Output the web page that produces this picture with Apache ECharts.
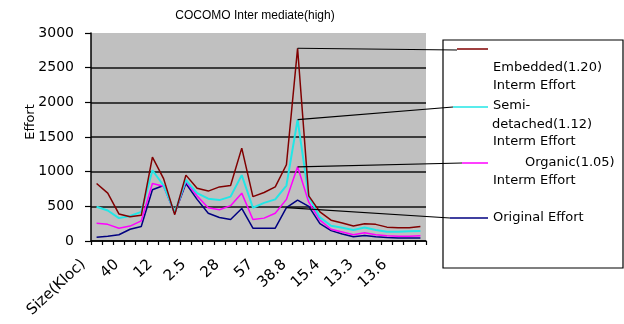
<!DOCTYPE html>
<html><head><meta charset="utf-8">
<script src="https://cdn.jsdelivr.net/npm/echarts@6/dist/echarts.min.js"></script>
<style>html,body{margin:0;padding:0;background:#fff}#c{width:624px;height:324px}</style>
</head><body><div id="c"></div>
<script>
const titleText = 'COCOMO Inter mediate(high)';
const yAxisTitle = 'Effort';
const categories = ['Size(Kloc)','','','40','','','12','','','2.5','','','28','','','57','','','38.8','','','15.4','','','13.3','','','13.6','',''];
const embedded     = [830,690,390,350,370,1210,900,380,950,760,720,780,800,1340,640,700,780,1100,2780,650,420,300,260,215,250,240,200,190,190,210];
const semiDetached = [495,440,330,360,420,1020,800,410,880,690,610,590,640,950,480,550,600,800,1750,640,340,220,190,160,195,160,135,135,140,145];
const organic      = [255,240,185,215,290,830,790,400,860,650,480,450,510,690,310,330,400,600,1070,560,300,170,130,90,120,90,75,70,70,75];
const original     = [55,70,90,170,210,740,800,400,830,600,400,340,310,470,185,185,185,480,590,500,250,150,100,60,80,60,50,45,45,45];
const yMin = 0, yMax = 3000, yStep = 500;
const legendLabels = {
  embedded: ['Embedded(1.20)', 'Interm Effort'],
  semi: ['Semi-', 'detached(1.12)', 'Interm Effort'],
  organic: ['Organic(1.05)', 'Interm Effort'],
  original: ['Original Effort']
};
const colors = { embedded:'#800000', semi:'#22e6e6', organic:'#ff00ff', original:'#000080' };

const chart = echarts.init(document.getElementById('c'), null, {renderer:'canvas'});
const lf = '13px "DejaVu Sans"';
function leader(seriesData, idx, ex, ey) {
  return {
    silent: true, symbol: ['none','none'], label:{show:false}, animation:false,
    emphasis:{disabled:true},
    lineStyle:{color:'#000', width:1.2, type:'solid'},
    data: [[{coord:[idx, seriesData[idx]]}, {x:ex, y:ey}]]
  };
}
function mkSeries(name, data, color, width, ml) {
  return { name, type:'line', data, symbol:'none', animation:false, clip:false,
    lineStyle:{color, width}, itemStyle:{color}, markLine: ml, z: 3 };
}
const textEl = (t, x, y) => ({ type:'text', x, y, z: 5, style:{ text:t, font:lf, fill:'#000', align:'left', verticalAlign:'middle' } });
const lineEl = (x1, x2, y, color) => ({ type:'line', z: 5, shape:{x1, y1:y, x2, y2:y}, style:{stroke:color, lineWidth:1.5} });

chart.setOption({
  animation:false,
  backgroundColor:'#fff',
  title: { text:titleText, left:255, textAlign:'center', top:10, padding:0,
    textStyle:{fontFamily:'Liberation Sans', fontSize:12, fontWeight:'normal', color:'#000'} },
  grid: { left:91, right:198, top:33, bottom:83, show:true, backgroundColor:'#c0c0c0', borderWidth:0 },
  xAxis: { type:'category', data:categories, boundaryGap:true,
    axisLine:{show:true, lineStyle:{color:'#000', width:1.5}},
    axisTick:{show:true, interval:0, length:4, lineStyle:{color:'#000', width:1.2}},
    axisLabel:{interval:2, rotate:43, margin:9, padding:[0,18,0,0], color:'#000', fontFamily:'DejaVu Sans', fontSize:15},
    splitLine:{show:false} },
  yAxis: { type:'value', min:yMin, max:yMax, interval:yStep,
    name: yAxisTitle, nameLocation:'middle', nameRotate:90, nameGap:54, nameMoveOverlap:false,
    nameTextStyle:{fontFamily:'DejaVu Sans', fontSize:13, color:'#000', padding:[0,0,0,30]},
    axisLine:{show:true, lineStyle:{color:'#000', width:1.5}},
    axisTick:{show:true, length:6, lineStyle:{color:'#000', width:1.2}},
    axisLabel:{margin:17, color:'#000', fontFamily:'DejaVu Sans', fontSize:14, formatter:(v)=>String(v)},
    splitLine:{show:true, showMaxLine:false, lineStyle:{color:'#111', width:1.5}} },
  series: [
    mkSeries('Original Effort', original, colors.original, 1.5, leader(original, 17, 450, 218)),
    mkSeries('Organic(1.05) Interm Effort', organic, colors.organic, 1.5, leader(organic, 18, 462, 163)),
    mkSeries('Semi-detached(1.12) Interm Effort', semiDetached, colors.semi, 2, leader(semiDetached, 18, 453, 107)),
    mkSeries('Embedded(1.20) Interm Effort', embedded, colors.embedded, 1.5, leader(embedded, 18, 457, 50))
  ],
  graphic: [
    { type:'rect', z:0, shape:{x:443, y:40, width:180, height:228}, style:{fill:'#fff', stroke:'#000', lineWidth:1.2} },
    lineEl(457, 488, 49, colors.embedded),
    textEl(legendLabels.embedded[0], 493, 68), textEl(legendLabels.embedded[1], 493, 86),
    lineEl(453, 488, 107, colors.semi),
    textEl(legendLabels.semi[0], 493, 106), textEl(legendLabels.semi[1], 492, 125), textEl(legendLabels.semi[2], 493, 142),
    lineEl(462, 488, 163, colors.organic),
    textEl(legendLabels.organic[0], 525, 163), textEl(legendLabels.organic[1], 493, 181),
    lineEl(450, 488, 218, colors.original),
    textEl(legendLabels.original[0], 493, 218)
  ]
});
</script></body></html>
